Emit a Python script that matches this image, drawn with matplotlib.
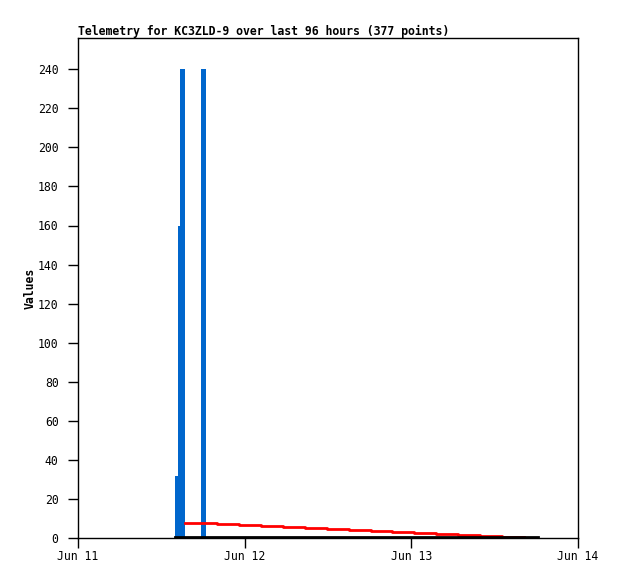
import matplotlib
matplotlib.use("Agg")
import matplotlib.pyplot as plt

# hours since Jun 11 00:00
blue_t = [13.97, 14.40, 14.69, 15.41, 17.71, 18.43]
blue_v = [32, 160, 240, 0, 240, 0]

red_t = [15.41, 20.02, 23.18, 26.35, 29.52, 32.69, 35.86, 39.02, 42.19,
         45.22, 48.38, 51.55, 54.72, 57.89, 61.06, 64.22]
red_v = [7.83, 7.22, 6.65, 6.14, 5.63, 5.12, 4.61, 4.09, 3.58,
         3.07, 2.56, 2.05, 1.54, 1.13, 0.72, 0.72]

black_t = [13.97, 66.24]
black_v = [0.3, 0.3]

tick_hours = [0, 24, 48, 72]
tick_labels = ["Jun 11", "Jun 12", "Jun 13", "Jun 14"]
y_ticks = list(range(0, 241, 20))

mono = "DejaVu Sans Mono"

fig = plt.figure(figsize=(6.18, 5.79), dpi=100)
ax = fig.add_axes([78 / 618, 41 / 579, 500 / 618, 500 / 579])

ax.fill_between(blue_t, blue_v, step="post", color="#0066cc", linewidth=0)
ax.step(red_t, red_v, where="post", color="red", linewidth=2)
ax.plot(black_t, black_v, color="black", linewidth=2)

ax.set_xlim(0, 72)
ax.set_ylim(0, 256)
ax.set_xticks(tick_hours)
ax.set_xticklabels(tick_labels, family=mono, fontsize=8.3)
ax.set_yticks(y_ticks)
ax.set_yticklabels([str(v) for v in y_ticks], family=mono, fontsize=8.3)
ax.tick_params(direction="out", length=7, width=1, colors="black", pad=7)
ax.tick_params(axis="x", pad=2)
for s in ax.spines.values():
    s.set_linewidth(1)
    s.set_color("black")

ax.set_ylabel("Values", family=mono, fontsize=8.3, fontweight="bold", labelpad=1)
ax.set_title("Telemetry for KC3ZLD-9 over last 96 hours (377 points)",
             family=mono, fontsize=8.3, fontweight="bold", loc="left", pad=2)

fig.savefig("out.png", dpi=100)
